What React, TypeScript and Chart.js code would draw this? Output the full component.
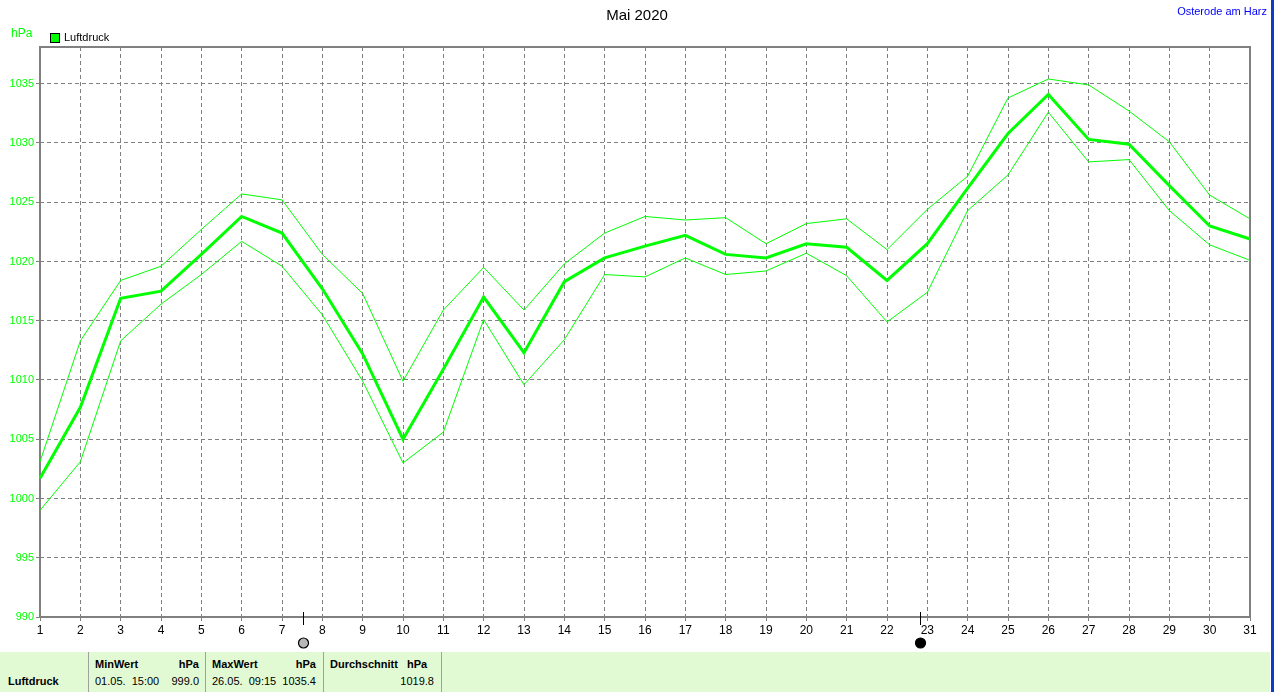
import React, { useEffect, useRef } from "react";
import { Chart, registerables } from "chart.js";

Chart.register(...registerables);

const days: string[] = Array.from({ length: 31 }, (_, i) => String(i + 1));

const meanValues: number[] = [
  1001.7, 1007.7, 1016.9, 1017.5, 1020.6, 1023.8, 1022.4, 1017.7, 1012.2, 1005.0,
  1010.9, 1017.0, 1012.3, 1018.3, 1020.3, 1021.3, 1022.2, 1020.6, 1020.3, 1021.5,
  1021.2, 1018.4, 1021.5, 1026.2, 1030.8, 1034.1, 1030.3, 1029.9, 1026.4, 1023.0,
  1021.9,
];

const maxValues: number[] = [
  1003.1, 1013.3, 1018.4, 1019.6, 1022.7, 1025.7, 1025.2, 1020.6, 1017.3, 1009.9,
  1015.9, 1019.5, 1015.9, 1019.8, 1022.4, 1023.8, 1023.5, 1023.7, 1021.5, 1023.2,
  1023.6, 1021.0, 1024.4, 1027.2, 1033.8, 1035.4, 1034.9, 1032.7, 1030.1, 1025.6,
  1023.6,
];

const minValues: number[] = [
  999.0, 1003.1, 1013.3, 1016.4, 1018.9, 1021.7, 1019.6, 1015.5, 1009.9, 1003.0,
  1005.6, 1015.1, 1009.6, 1013.4, 1018.9, 1018.7, 1020.3, 1018.9, 1019.2, 1020.7,
  1018.8, 1014.9, 1017.4, 1024.3, 1027.3, 1032.6, 1028.4, 1028.6, 1024.3, 1021.4,
  1020.1,
];

const yTicks: number[] = [990, 995, 1000, 1005, 1010, 1015, 1020, 1025, 1030, 1035];

// moon phases: day of month (fractional) and type
const moonDays: number[] = [7.52, 22.82];
const moonTypes: string[] = ["full", "new"];

const GREEN = "#00ff00";
const GRID = "#808080";

const framePlugin = {
  id: "frame",
  beforeDatasetsDraw(chart: any) {
    const { ctx, chartArea } = chart;
    ctx.save();
    ctx.strokeStyle = GRID;
    ctx.lineWidth = 2;
    ctx.strokeRect(chartArea.left, chartArea.top, chartArea.right - chartArea.left, chartArea.bottom - chartArea.top);
    ctx.restore();
  },
  afterDraw(chart: any) {
    const { ctx, chartArea } = chart;
    const xs = chart.scales.x;
    ctx.save();
    moonDays.forEach((d, i) => {
      const px = Math.round(xs.getPixelForValue(d - 1));
      ctx.strokeStyle = "#000";
      ctx.lineWidth = 1;
      ctx.beginPath();
      ctx.moveTo(px + 0.5, chartArea.bottom - 5);
      ctx.lineTo(px + 0.5, chartArea.bottom + 8);
      ctx.stroke();
      const cy = chartArea.bottom + 26;
      ctx.beginPath();
      ctx.arc(px + 0.5, cy, 5, 0, Math.PI * 2);
      ctx.fillStyle = moonTypes[i] === "full" ? "#b8b8b8" : "#000";
      ctx.fill();
      ctx.lineWidth = 1.2;
      ctx.strokeStyle = "#000";
      ctx.stroke();
    });
    ctx.restore();
  },
};

export default function App() {
  const canvasRef = useRef<HTMLCanvasElement | null>(null);

  useEffect(() => {
    document.body.style.margin = "0";
    const canvas = canvasRef.current;
    if (!canvas) return;
    const chart = new Chart(canvas, {
      type: "line",
      data: {
        labels: days,
        datasets: [
          { label: "Max", data: maxValues, borderColor: GREEN, borderWidth: 1, pointRadius: 0, tension: 0 },
          { label: "Min", data: minValues, borderColor: GREEN, borderWidth: 1, pointRadius: 0, tension: 0 },
          { label: "Luftdruck", data: meanValues, borderColor: GREEN, borderWidth: 3, pointRadius: 0, tension: 0 },
        ],
      },
      options: {
        animation: false,
        responsive: true,
        maintainAspectRatio: false,
        layout: { padding: { left: 0, top: 47, right: 24, bottom: 0 } },
        plugins: { legend: { display: false }, tooltip: { enabled: false }, title: { display: false } },
        scales: {
          x: {
            type: "category",
            offset: false,
            border: { display: false, dash: [4, 3] },
            grid: { color: GRID, lineWidth: 1, tickLength: 4, tickColor: GRID, drawTicks: true },
            ticks: {
              color: "#000",
              font: { family: "Liberation Sans, Arial, sans-serif", size: 12 },
              padding: 2,
              maxRotation: 0,
              autoSkip: false,
            },
            afterFit(scale: any) {
              scale.height = 75;
            },
          },
          y: {
            type: "linear",
            min: 990,
            max: 1038.1,
            border: { display: false, dash: [4, 3] },
            grid: { color: GRID, lineWidth: 1, tickLength: 4, tickColor: GRID },
            ticks: {
              color: GREEN,
              font: { family: "Liberation Sans, Arial, sans-serif", size: 11 },
              padding: 2,
              callback: (v: any) => String(v),
            },
            afterBuildTicks(scale: any) {
              scale.ticks = yTicks.map((v) => ({ value: v }));
            },
            afterFit(scale: any) {
              scale.width = 40;
            },
          },
        },
      } as any,
      plugins: [framePlugin],
    });
    return () => chart.destroy();
  }, []);

  const font = "Liberation Sans, Arial, sans-serif";
  const cellText: React.CSSProperties = { position: "absolute", fontSize: 11, fontFamily: font, whiteSpace: "pre", color: "#000" };

  return (
    <div style={{ position: "absolute", left: 0, top: 0, width: 1274, height: 692, background: "#fff", overflow: "hidden", fontFamily: font }}>
      <div style={{ position: "absolute", left: 0, top: 0, width: 1274, height: 692 }}>
        <canvas ref={canvasRef} />
      </div>
      <div style={{ position: "absolute", left: 0, width: 1274, top: 6, textAlign: "center", fontSize: 15, color: "#000" }}>Mai 2020</div>
      <div style={{ position: "absolute", right: 7, top: 5, fontSize: 11, color: "#0000ff" }}>Osterode am Harz</div>
      <div style={{ position: "absolute", left: 11, top: 26, fontSize: 12, color: GREEN }}>hPa</div>
      <div style={{ position: "absolute", left: 50, top: 33, width: 8, height: 8, background: GREEN, border: "1px solid #000" }} />
      <div style={{ position: "absolute", left: 64, top: 31, fontSize: 11, color: "#000" }}>Luftdruck</div>
      <div style={{ position: "absolute", left: 1271, top: 0, width: 3, height: 692, background: "#0a3cc8" }} />
      <div style={{ position: "absolute", left: 0, top: 652, width: 1270, height: 40, background: "#e2fad4" }}>
        {[88, 205, 323, 441].map((x) => (
          <div key={x} style={{ position: "absolute", left: x, top: 0, width: 1, height: 40, background: "#a0a0a0" }} />
        ))}
        <div style={{ ...cellText, left: 8, top: 23, fontWeight: "bold" }}>Luftdruck</div>
        <div style={{ ...cellText, left: 95, top: 6, fontWeight: "bold" }}>MinWert</div>
        <div style={{ ...cellText, left: 150, width: 49, textAlign: "right", top: 6, fontWeight: "bold" }}>hPa</div>
        <div style={{ ...cellText, left: 95, top: 23 }}>01.05.  15:00</div>
        <div style={{ ...cellText, left: 150, width: 49, textAlign: "right", top: 23 }}>999.0</div>
        <div style={{ ...cellText, left: 212, top: 6, fontWeight: "bold" }}>MaxWert</div>
        <div style={{ ...cellText, left: 267, width: 49, textAlign: "right", top: 6, fontWeight: "bold" }}>hPa</div>
        <div style={{ ...cellText, left: 212, top: 23 }}>26.05.  09:15</div>
        <div style={{ ...cellText, left: 267, width: 49, textAlign: "right", top: 23 }}>1035.4</div>
        <div style={{ ...cellText, left: 330, top: 6, fontWeight: "bold" }}>Durchschnitt   hPa</div>
        <div style={{ ...cellText, left: 380, width: 54, textAlign: "right", top: 23 }}>1019.8</div>
      </div>
    </div>
  );
}
